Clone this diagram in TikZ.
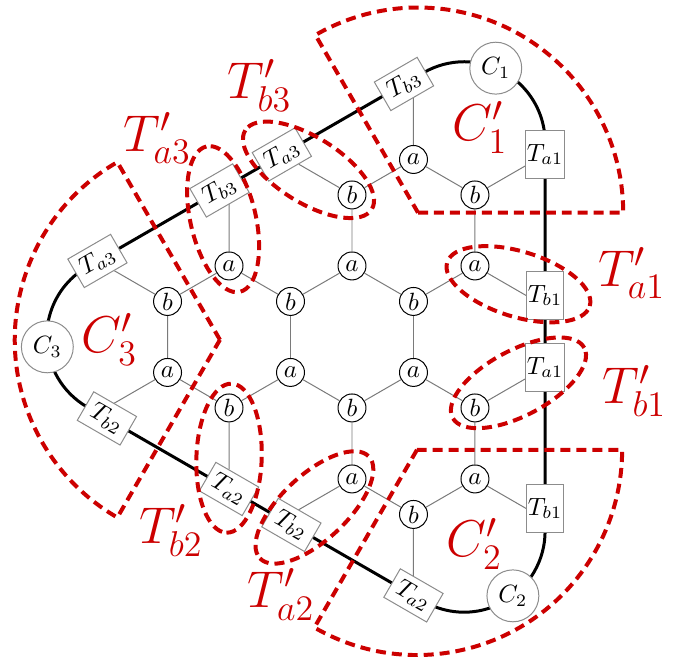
\documentclass[tikz,border=0pt]{standalone}
\usepackage{tikz}
\usepackage{xcolor}
\usetikzlibrary{calc,backgrounds}
\definecolor{Crimson}{HTML}{CC0000}
\definecolor{Wire}{HTML}{7A7A7A}

\begin{document}
\begin{tikzpicture}[
  site/.style={circle,draw,fill=white,inner sep=0pt,minimum size=11.2pt},
  corner/.style={circle,draw=black!45,fill=white,inner sep=0pt,minimum size=20.8pt},
  tbox/.style={draw=black!45,fill=white,inner sep=0.5pt},
  tright/.style={tbox,minimum width=14.4pt,minimum height=19.4pt},
  tupper/.style={tbox,minimum width=19.8pt,minimum height=13.2pt,rotate=30},
  tlower/.style={tbox,minimum width=19.8pt,minimum height=13.2pt,rotate=-30},
  bond/.style={Wire,line width=0.4pt},
  chain/.style={black,line width=1.2pt},
  part/.style={Crimson,line width=1.6pt,dash pattern=on 4pt off 2.4pt},
  tag/.style={Crimson,font=\huge}]
  \useasboundingbox (-4.958,-4.507) rectangle (4.803,4.746);
  \foreach \r/\n/\i/\j/\sa/\sb in {0/0/3/1/tupper/tright,120/1/2/3/tlower/tupper,240/2/1/2/tright/tlower}{
    \node[site] (ca\n) at (90+\r:1) {$a$};
    \node[site] (cb\n) at (30+\r:1) {$b$};
    \node[site] (oa\n) at (70.89+\r:2.6458) {$a$};
    \node[site] (ob\n) at (49.11+\r:2.6458) {$b$};
    \node[site] (oc\n) at (30+\r:2) {$a$};
    \node[site] (od\n) at (90+\r:2) {$b$};
    \node[\sa] (ta\n) at (78.39+\r:3.638) {$T_{b\i}$};
    \node[\sb] (tb\n) at (43.38+\r:3.742) {$T_{a\j}$};
    \node[\sb] (tc\n) at (12.13+\r:2.782) {$T_{b\j}$};
    \node[\sa] (td\n) at (111.03+\r:2.754) {$T_{a\i}$};
    \node[corner] (cc\n) at (61.86+\r:4.2936) {$C_\j$};
    \coordinate (pa\n) at (76.62+\r:3.7425);
    \coordinate (pc\n) at (8.975+\r:2.7537);
  }
  \begin{scope}[on background layer]
    \foreach \n/\m in {0/1,1/2,2/0}{
      \draw[bond] (ca\n) -- (cb\n);
      \draw[bond] (ca\n) -- (cb\m);
      \draw[bond] (oa\n) -- (ob\n) -- (oc\n) -- (cb\n);
      \draw[bond] (ca\n) -- (od\n) -- (oa\n);
      \draw[bond] (oa\n) -- (pa\n);
      \draw[bond] (ob\n) -- (tb\n);
      \draw[bond] (oc\n) -- (pc\n);
      \draw[bond] (od\n) -- (td\n);
    }
    \foreach \r in {0,120,240}
      \draw[chain] (45.17+\r:3.8585) arc[start angle=\r,end angle=120+\r,radius=1.14] -- (165.17+\r:3.8585);
  \end{scope}
  \foreach \x/\y/\s in {0.93/1.75/0,-1.86/-0.04/120,0.915/-1.59/240}
    \draw[part] (\x,\y) -- ++(\s:2.89) arc[start angle=\s,end angle=\s+120,radius=2.89] -- cycle;
  \foreach \n/\ea/\eb in {0/-17/148,1/103/268,2/223/28}{
    \coordinate (ma\n) at ($(oc\n)!0.62!(tc\n)$);
    \coordinate (mb\n) at ($(od\n)!0.62!(td\n)$);
    \draw[part,rotate around={\ea:(ma\n)}] (ma\n) ellipse[x radius=1.05,y radius=0.46];
    \draw[part,rotate around={\eb:(mb\n)}] (mb\n) ellipse[x radius=1.05,y radius=0.46];
  }
  \node[tag] (kc1) at (1.80,2.95) {$C'_1$};
  \node[tag] (kc2) at (1.725,-2.915) {$C'_2$};
  \node[tag] (kc3) at (-3.415,-0.04) {$C'_3$};
  \node[tag] (ka1) at (3.94,0.90) {$T'_{a1}$};
  \node[tag] (kb1) at (3.98,-0.76) {$T'_{b1}$};
  \node[tag] (kb3) at (-1.30,3.54) {$T'_{b3}$};
  \node[tag] (ka3) at (-2.74,2.80) {$T'_{a3}$};
  \node[tag] (kb2) at (-2.55,-2.73) {$T'_{b2}$};
  \node[tag] (ka2) at (-1.0,-3.63) {$T'_{a2}$};
\end{tikzpicture}
\end{document}
